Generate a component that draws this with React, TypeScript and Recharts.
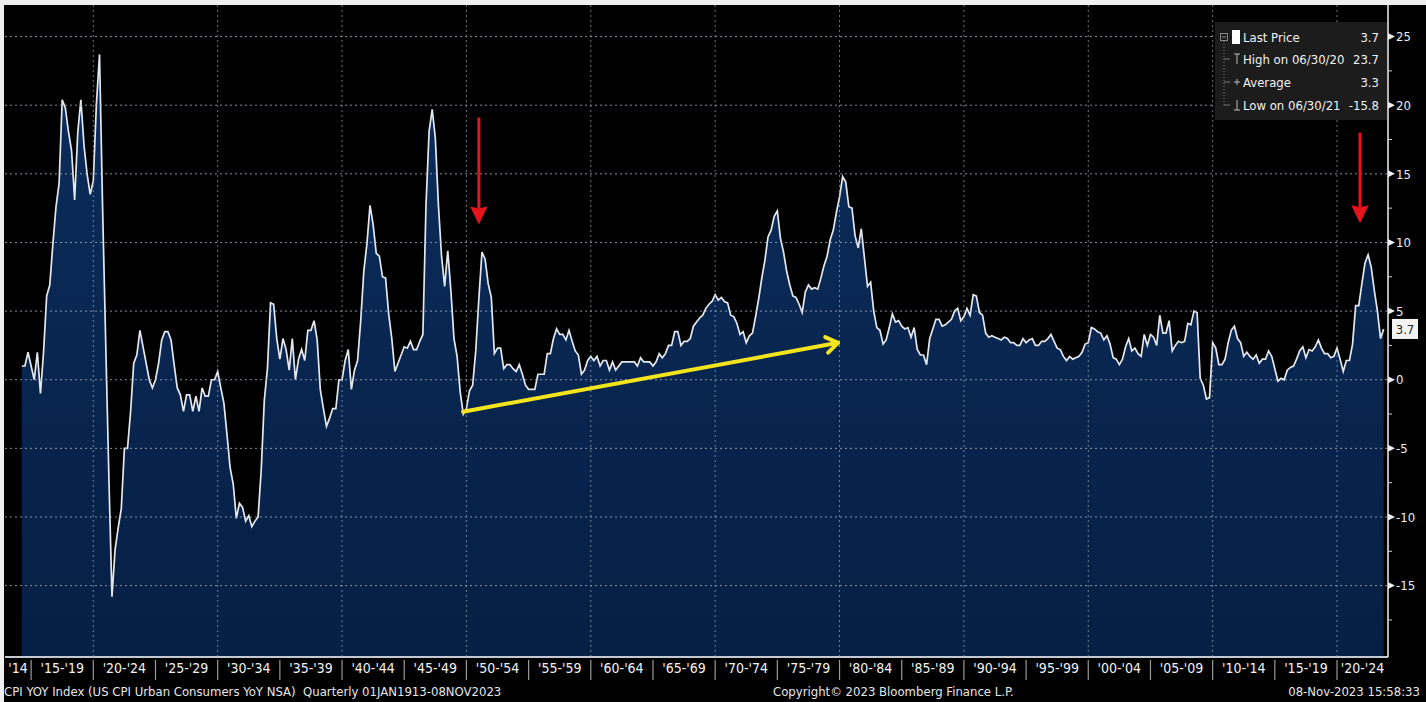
import React from "react";
import { AreaChart, Area, XAxis, YAxis, ReferenceLine, ReferenceDot } from "recharts";

// US CPI YoY %, quarterly (Mar, Jun, Sep, Dec), first value = Mar 1914
const cpi1910s = [
  1.0, 1.0, 2.0, 1.0, 0.0, 2.0, -1.0, 2.0, 6.1, 6.9, 9.9, 12.6,
  14.3, 20.4, 19.8, 18.1, 16.7, 13.1, 18.0, 20.4, 17.1, 15.0, 13.5, 14.5,
];
const cpi1920s = [
  20.1, 23.7, 12.4, 2.6, -7.0, -15.8, -12.4, -10.8, -9.4, -5.0, -5.0, -2.3,
  1.2, 1.8, 3.6, 2.4, 1.2, 0.0, -0.6, 0.0, 1.2, 2.9, 3.5, 3.5,
  2.9, 1.1, -0.6, -1.1, -2.3, -1.1, -1.1, -2.3, -1.2, -2.3, -0.6, -1.2,
  -1.2, 0.0, 0.0, 0.6,
];
const cpi1930s = [
  -0.6, -1.7, -4.0, -6.4, -7.6, -10.1, -9.0, -9.3, -10.3, -9.9, -10.7, -10.3,
  -10.0, -6.6, -1.5, 0.8, 5.6, 5.5, 3.0, 1.5, 3.0, 2.2, 0.7, 3.0,
  0.0, 1.5, 2.2, 1.4, 3.6, 3.6, 4.3, 2.9, -0.7, -2.1, -3.4, -2.8,
  -2.1, -2.1, 0.0, 0.0,
];
const cpi1940s = [
  1.4, 2.2, -0.7, 0.7, 1.4, 4.3, 7.9, 9.9, 12.7, 11.3, 9.2, 9.0,
  7.5, 7.4, 4.8, 3.0, 0.6, 1.2, 1.8, 2.4, 2.3, 2.8, 2.2, 2.2,
  2.8, 3.3, 12.7, 18.1, 19.7, 17.6, 12.7, 9.0, 6.8, 9.4, 6.5, 3.0,
  1.7, -0.9, -2.5, -2.1,
];
const cpi1950s = [
  -0.8, -0.4, 2.1, 5.9, 9.3, 8.8, 7.0, 6.0, 1.9, 2.3, 2.3, 0.8,
  1.1, 1.1, 0.8, 0.6, 1.1, 0.4, -0.4, -0.7, -0.7, -0.7, 0.4, 0.4,
  0.4, 1.9, 1.9, 3.0, 3.7, 3.3, 3.3, 2.9, 3.6, 2.8, 2.1, 1.8,
  0.4, 0.7, 1.4, 1.7,
];
const cpi1960s = [
  1.4, 1.7, 1.0, 1.4, 1.4, 0.7, 1.3, 0.7, 1.0, 1.3, 1.3, 1.3,
  1.3, 1.3, 1.0, 1.6, 1.3, 1.3, 1.3, 1.0, 1.3, 1.9, 1.6, 1.9,
  2.5, 2.5, 3.5, 3.5, 2.5, 2.8, 2.8, 3.0, 3.9, 4.2, 4.5, 4.7,
  5.2, 5.5, 5.7, 6.2,
];
const cpi1970s = [
  5.8, 6.0, 5.7, 5.6, 4.7, 4.6, 4.1, 3.3, 3.5, 2.7, 3.2, 3.4,
  4.6, 5.9, 7.4, 8.7, 10.4, 10.9, 11.9, 12.3, 10.3, 9.3, 7.9, 6.9,
  6.1, 6.0, 5.5, 4.9, 6.4, 6.9, 6.6, 6.7, 6.6, 7.4, 8.3, 9.0,
  10.2, 10.9, 12.2, 13.3,
];
const cpi1980s = [
  14.8, 14.4, 12.6, 12.5, 10.5, 9.6, 11.0, 8.9, 6.8, 7.1, 5.0, 3.8,
  3.6, 2.6, 2.9, 3.8, 4.8, 4.2, 4.3, 3.9, 3.7, 3.8, 3.1, 3.8,
  2.2, 1.8, 1.8, 1.1, 3.0, 3.7, 4.4, 4.4, 3.9, 4.0, 4.2, 4.4,
  5.0, 5.2, 4.3, 4.6,
];
const cpi1990s = [
  5.2, 4.7, 6.2, 6.1, 4.9, 4.7, 3.4, 3.1, 3.2, 3.1, 3.0, 2.9,
  3.1, 3.0, 2.7, 2.7, 2.5, 2.5, 3.0, 2.7, 2.9, 3.0, 2.5, 2.5,
  2.8, 2.8, 3.0, 3.3, 2.8, 2.3, 2.2, 1.7, 1.4, 1.7, 1.5, 1.6,
  1.7, 2.0, 2.6, 2.7,
];
const cpi2000s = [
  3.8, 3.7, 3.5, 3.4, 2.9, 3.2, 2.6, 1.6, 1.5, 1.1, 1.5, 2.4,
  3.0, 2.1, 2.3, 1.9, 1.7, 3.3, 2.5, 3.3, 3.1, 2.5, 4.7, 3.4,
  3.4, 4.3, 2.1, 2.5, 2.8, 2.7, 2.8, 4.1, 4.0, 5.0, 4.9, 0.1,
  -0.4, -1.4, -1.3, 2.7,
];
const cpi2010s = [
  2.3, 1.1, 1.1, 1.5, 2.7, 3.6, 3.9, 3.0, 2.7, 1.7, 2.0, 1.7,
  1.5, 1.8, 1.2, 1.5, 1.5, 2.1, 1.7, 0.8, -0.1, 0.1, 0.0, 0.7,
  0.9, 1.0, 1.5, 2.1, 2.4, 1.6, 2.2, 2.1, 2.4, 2.9, 2.3, 1.9,
  1.9, 1.6, 1.7, 2.3,
];
const cpi2020s = [1.5, 0.6, 1.4, 1.4, 2.6, 5.4, 5.4, 7.0, 8.5, 9.1, 8.2, 6.5, 5.0, 3.0, 3.7];

const FIRST_QUARTER = 1914.25;

const bandLabels = [
  "'14", "'15-'19", "'20-'24", "'25-'29", "'30-'34", "'35-'39", "'40-'44", "'45-'49",
  "'50-'54", "'55-'59", "'60-'64", "'65-'69", "'70-'74", "'75-'79", "'80-'84", "'85-'89",
  "'90-'94", "'95-'99", "'00-'04", "'05-'09", "'10-'14", "'15-'19", "'20-'24",
];
const bandStarts = [
  1910, 1915, 1920, 1925, 1930, 1935, 1940, 1945, 1950, 1955, 1960, 1965,
  1970, 1975, 1980, 1985, 1990, 1995, 2000, 2005, 2010, 2015, 2020,
];
const yMajorTicks = [-15, -10, -5, 0, 5, 10, 15, 20, 25];
const yMinorTicks = [-17.5, -12.5, -7.5, -2.5, 2.5, 7.5, 12.5, 17.5, 22.5];
const decadeLines = [1920, 1930, 1940, 1950, 1960, 1970, 1980, 1990, 2000, 2010, 2020];

const legendRows = [
  { icon: "box", label: "Last Price", value: "3.7" },
  { icon: "high", label: "High on 06/30/20", value: "23.7" },
  { icon: "avg", label: "Average", value: "3.3" },
  { icon: "low", label: "Low on 06/30/21", value: "-15.8" },
];

const X_MIN = 1912.9;
const X_MAX = 2024.1;
const Y_MIN = -20.2;
const Y_MAX = 27.3;

const FONT = "'Liberation Sans Narrow', 'DejaVu Sans Condensed', 'Arial Narrow', sans-serif";

const series = [
  ...cpi1910s, ...cpi1920s, ...cpi1930s, ...cpi1940s, ...cpi1950s, ...cpi1960s,
  ...cpi1970s, ...cpi1980s, ...cpi1990s, ...cpi2000s, ...cpi2010s, ...cpi2020s,
];
const data = series.map((v, i) => ({ t: FIRST_QUARTER + i * 0.25, v }));
const lastValue = series[series.length - 1];

const bandCenters = bandStarts.map((s) => (Math.max(s, X_MIN) + Math.min(s + 5, X_MAX)) / 2);
const separators = bandStarts.slice(1);

function XTick(props: any) {
  const { x, y, payload } = props;
  const idx = bandCenters.indexOf(payload.value);
  if (idx < 0) {
    return <line x1={x} x2={x} y1={y + 3} y2={y + 23} stroke="#9a9a9a" strokeWidth={1.2} />;
  }
  return (
    <text x={x} y={y + 16} textAnchor="middle" fill="#f2f2f2" fontSize={14} fontFamily={FONT}>
      {bandLabels[idx]}
    </text>
  );
}

function YTick(props: any) {
  const { x, y, payload } = props;
  const v = payload.value;
  if (v % 5 !== 0) {
    return <line x1={x} x2={x + 4} y1={y} y2={y} stroke="#cfcfcf" strokeWidth={1} />;
  }
  return (
    <g>
      <polygon points={`${x},${y - 3.5} ${x + 7},${y} ${x},${y + 3.5}`} fill="#eeeeee" />
      <text x={x + 8} y={y} dy="0.36em" fill="#eeeeee" fontSize={13} fontFamily={FONT}>
        {v}
      </text>
    </g>
  );
}

function arrowShape(color: string, width: number, head: number, open: boolean) {
  return (p: any) => {
    const { x1, y1, x2, y2 } = p;
    if ([x1, y1, x2, y2].some((n) => typeof n !== "number" || isNaN(n))) return <g />;
    const ang = Math.atan2(y2 - y1, x2 - x1);
    const spread = open ? 0.6 : 0.45;
    const ax = x2 - head * Math.cos(ang - spread);
    const ay = y2 - head * Math.sin(ang - spread);
    const bx = x2 - head * Math.cos(ang + spread);
    const by = y2 - head * Math.sin(ang + spread);
    if (open) {
      return (
        <g>
          <line x1={x1} y1={y1} x2={x2} y2={y2} stroke={color} strokeWidth={width} strokeLinecap="round" />
          <polyline points={`${ax},${ay} ${x2},${y2} ${bx},${by}`} fill="none" stroke={color} strokeWidth={width} strokeLinecap="round" strokeLinejoin="round" />
        </g>
      );
    }
    const ex = x2 - head * 0.8 * Math.cos(ang);
    const ey = y2 - head * 0.8 * Math.sin(ang);
    return (
      <g>
        <line x1={x1} y1={y1} x2={ex} y2={ey} stroke={color} strokeWidth={width} />
        <polygon points={`${ax},${ay} ${x2},${y2} ${bx},${by} ${ex},${ey}`} fill={color} />
      </g>
    );
  };
}

function LastPriceTag(props: any) {
  const { cx, cy } = props;
  if (typeof cx !== "number") return <g />;
  return (
    <g>
      <rect x={cx + 4} y={cy - 10} width={26} height={20} fill="#f4f4f4" />
      <text x={cx + 17} y={cy} dy="0.36em" textAnchor="middle" fill="#222" fontSize={13} fontFamily={FONT}>
        {lastValue.toFixed(1)}
      </text>
    </g>
  );
}

function LegendBox() {
  const rowY = [15, 37, 60, 83];
  return (
    <svg width={172} height={98} style={{ position: "absolute", left: 1215, top: 22 }}>
      <rect x={0} y={0} width={172} height={98} fill="#1c1c1c" />
      <rect x={5.5} y={11.5} width={7} height={7} fill="none" stroke="#8a8a8a" />
      <line x1={7} x2={11} y1={15} y2={15} stroke="#8a8a8a" />
      <line x1={9} x2={9} y1={19} y2={84} stroke="#777" strokeDasharray="1 2" />
      {rowY.slice(1).map((y) => (
        <line key={y} x1={9} x2={15} y1={y} y2={y} stroke="#777" />
      ))}
      {legendRows.map((r, i) => {
        const y = rowY[i];
        let icon: React.ReactNode = null;
        if (r.icon === "box") icon = <rect x={17} y={y - 7} width={8} height={14} fill="#ffffff" />;
        if (r.icon === "high")
          icon = (
            <g stroke="#bbb" strokeWidth={1}>
              <line x1={19} x2={25} y1={y - 5} y2={y - 5} />
              <line x1={22} x2={22} y1={y - 5} y2={y + 5} />
            </g>
          );
        if (r.icon === "avg")
          icon = (
            <g stroke="#bbb" strokeWidth={1}>
              <line x1={19} x2={25} y1={y} y2={y} />
              <line x1={22} x2={22} y1={y - 3} y2={y + 3} />
            </g>
          );
        if (r.icon === "low")
          icon = (
            <g stroke="#bbb" strokeWidth={1}>
              <line x1={19} x2={25} y1={y + 5} y2={y + 5} />
              <line x1={22} x2={22} y1={y - 5} y2={y + 5} />
            </g>
          );
        return (
          <g key={r.label}>
            {icon}
            <text x={28} y={y} dy="0.36em" fill="#f2f2f2" fontSize={13} fontFamily={FONT}>
              {r.label}
            </text>
            <text x={164} y={y} dy="0.36em" textAnchor="end" fill="#f2f2f2" fontSize={13} fontFamily={FONT}>
              {r.value}
            </text>
          </g>
        );
      })}
    </svg>
  );
}

export default function App() {
  const footer: React.CSSProperties = {
    position: "absolute",
    top: 684,
    fontSize: 13,
    fontFamily: FONT,
    color: "#e6e6e6",
    whiteSpace: "pre",
    lineHeight: "16px",
  };
  const layer: React.CSSProperties = { position: "absolute", left: 0, top: 0 };
  return (
    <div style={{ position: "absolute", left: 0, top: 0, width: 1426, height: 702, background: "#efefef", overflow: "hidden" }}>
      <div style={{ position: "absolute", left: 4, top: 5, width: 1422, height: 697, background: "#000" }} />

      {/* base chart: area series and axes */}
      <AreaChart width={1426} height={702} data={data} margin={{ top: 5, right: 0, left: 5, bottom: 21 }} style={layer}>
        <defs>
          <linearGradient id="cpiFill" x1="0" y1="0" x2="0" y2="1">
            <stop offset="0%" stopColor="#0b2d5c" />
            <stop offset="100%" stopColor="#061f44" />
          </linearGradient>
        </defs>
        <XAxis
          dataKey="t"
          type="number"
          domain={[X_MIN, X_MAX]}
          allowDataOverflow
          ticks={[...bandCenters, ...separators]}
          interval={0}
          tick={<XTick />}
          tickLine={false}
          tickSize={0}
          tickMargin={0}
          axisLine={{ stroke: "#c3c9d3", strokeWidth: 2 }}
          height={24}
        />
        <YAxis
          orientation="right"
          type="number"
          domain={[Y_MIN, Y_MAX]}
          allowDataOverflow
          ticks={[...yMajorTicks, ...yMinorTicks]}
          interval={0}
          tick={<YTick />}
          tickLine={false}
          tickSize={0}
          tickMargin={0}
          axisLine={{ stroke: "#f0f0f0", strokeWidth: 1.5 }}
          width={38}
        />
        <Area
          type="linear"
          dataKey="v"
          baseValue={Y_MIN}
          stroke="#e4e8ee"
          strokeWidth={1.7}
          fill="url(#cpiFill)"
          fillOpacity={1}
          dot={false}
          activeDot={false}
          isAnimationActive={false}
        />
        <ReferenceDot x={X_MAX} y={lastValue} r={0} ifOverflow="visible" shape={<LastPriceTag />} />
      </AreaChart>

      {/* overlay: dotted grid and annotation arrows drawn on top of the fill */}
      <AreaChart width={1426} height={702} data={data} margin={{ top: 5, right: 38, left: 5, bottom: 45 }} style={layer}>
        <XAxis dataKey="t" type="number" domain={[X_MIN, X_MAX]} allowDataOverflow hide />
        <YAxis type="number" domain={[Y_MIN, Y_MAX]} allowDataOverflow hide />
        {yMajorTicks.map((v) => (
          <ReferenceLine key={"h" + v} y={v} stroke="#a7b0c0" strokeOpacity={0.8} strokeDasharray="2 3" />
        ))}
        {decadeLines.map((v) => (
          <ReferenceLine key={"v" + v} x={v} stroke="#a7b0c0" strokeOpacity={0.65} strokeDasharray="2 3" />
        ))}
        <ReferenceLine
          segment={[{ x: 1949.73, y: -2.33 }, { x: 1979.88, y: 2.69 }]}
          ifOverflow="visible"
          shape={arrowShape("#f4e41c", 4, 14, true)}
        />
        <ReferenceLine
          segment={[{ x: 1951.0, y: 19.1 }, { x: 1951.0, y: 11.3 }]}
          ifOverflow="visible"
          shape={arrowShape("#e8141c", 3, 20, false)}
        />
        <ReferenceLine
          segment={[{ x: 2021.85, y: 18.0 }, { x: 2021.85, y: 11.4 }]}
          ifOverflow="visible"
          shape={arrowShape("#e8141c", 3, 20, false)}
        />
      </AreaChart>

      <LegendBox />
      <div style={{ ...footer, left: 4 }}>CPI YOY Index (US CPI Urban Consumers YoY NSA)  Quarterly 01JAN1913-08NOV2023</div>
      <div style={{ ...footer, left: 773 }}>Copyright© 2023 Bloomberg Finance L.P.</div>
      <div style={{ ...footer, right: 6 }}>08-Nov-2023 15:58:33</div>
    </div>
  );
}
